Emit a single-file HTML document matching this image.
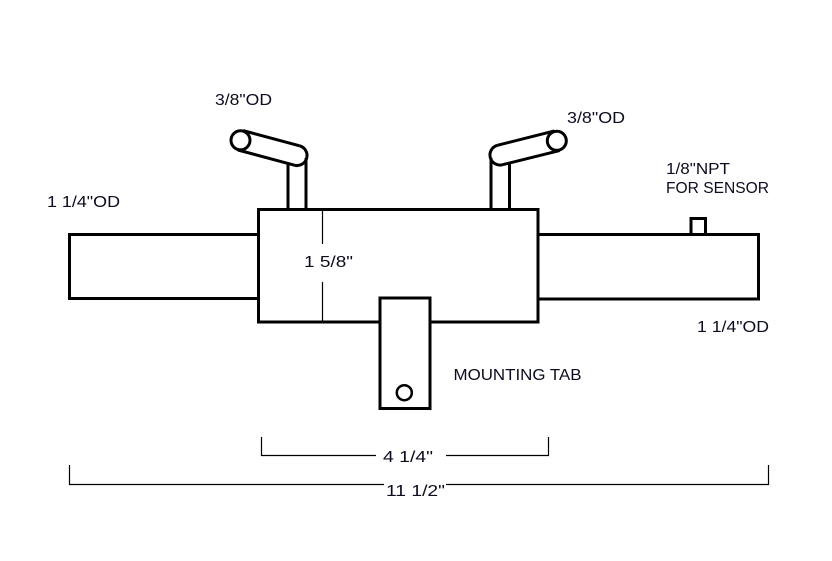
<!DOCTYPE html>
<html>
<head>
<meta charset="utf-8">
<style>
  html,body{margin:0;padding:0;background:#fff;}
  svg{display:block;}
  text{font-family:"Liberation Sans","DejaVu Sans",sans-serif;font-size:16px;fill:#0c0c20;}
</style>
</head>
<body>
<svg width="832" height="561" viewBox="0 0 832 561" xmlns="http://www.w3.org/2000/svg">
  <rect width="832" height="561" fill="#fff"/>

  <g fill="none" stroke="#000" stroke-width="3">
    <!-- left pipe -->
    <rect x="69.5" y="234.5" width="189" height="64" fill="#fff"/>
    <!-- right pipe -->
    <rect x="538" y="234.5" width="220.5" height="64.5" fill="#fff"/>
    <!-- sensor boss -->
    <rect x="691" y="218.5" width="14.5" height="16" fill="#fff"/>
    <!-- body -->
    <rect x="258.5" y="209.5" width="279.5" height="112.5" fill="#fff"/>

    <!-- left vertical riser -->
    <line x1="288" y1="209" x2="288" y2="163"/>
    <line x1="306" y1="209" x2="306" y2="158"/>
    <!-- right vertical riser -->
    <line x1="491" y1="209" x2="491" y2="158"/>
    <line x1="509.5" y1="209" x2="509.5" y2="163"/>

    <!-- left elbow -->
    <line x1="243.1" y1="130.6" x2="299.6" y2="145.8"/>
    <line x1="237.9" y1="150" x2="294.4" y2="165.2"/>
    <path d="M299.6 145.8 A10 10 0 0 1 294.4 165.2"/>
    <circle cx="240.5" cy="140.3" r="9.5" fill="#fff"/>

    <!-- right elbow -->
    <line x1="554.4" y1="130.9" x2="497.4" y2="145.3"/>
    <line x1="559.6" y1="150.6" x2="502.6" y2="164.7"/>
    <path d="M497.4 145.3 A10 10 0 0 0 502.6 164.7"/>
    <circle cx="556.8" cy="140.8" r="9.5" fill="#fff"/>

    <!-- mounting tab -->
    <rect x="380" y="298" width="50" height="110.5" fill="#fff"/>
    <circle cx="404.3" cy="392.7" r="7.5" stroke-width="2.5"/>
  </g>

  <!-- thin dimension lines -->
  <g fill="none" stroke="#000" stroke-width="1.2">
    <line x1="322.5" y1="211" x2="322.5" y2="244"/>
    <line x1="322.5" y1="282" x2="322.5" y2="321"/>

    <polyline points="261.5,437 261.5,455.5 376,455.5"/>
    <polyline points="446,455.5 548.5,455.5 548.5,437"/>

    <polyline points="69.5,465 69.5,484.5 384,484.5"/>
    <polyline points="446,484.5 768.5,484.5 768.5,465"/>
  </g>

  <!-- labels -->
  <text x="215" y="105" textLength="57" lengthAdjust="spacingAndGlyphs">3/8"OD</text>
  <text x="567" y="123" textLength="58" lengthAdjust="spacingAndGlyphs">3/8"OD</text>
  <text x="47" y="207" textLength="73" lengthAdjust="spacingAndGlyphs">1 1/4"OD</text>
  <text x="666" y="174" textLength="64" lengthAdjust="spacingAndGlyphs">1/8"NPT</text>
  <text x="666" y="193" textLength="103" lengthAdjust="spacingAndGlyphs">FOR SENSOR</text>
  <text x="697" y="332" textLength="72" lengthAdjust="spacingAndGlyphs">1 1/4"OD</text>
  <text x="304" y="267" textLength="49" lengthAdjust="spacingAndGlyphs">1 5/8"</text>
  <text x="453.5" y="380" textLength="128" lengthAdjust="spacingAndGlyphs">MOUNTING TAB</text>
  <text x="383" y="462" textLength="50" lengthAdjust="spacingAndGlyphs">4 1/4"</text>
  <text x="386" y="496" textLength="59" lengthAdjust="spacingAndGlyphs">11 1/2"</text>
</svg>
</body>
</html>
